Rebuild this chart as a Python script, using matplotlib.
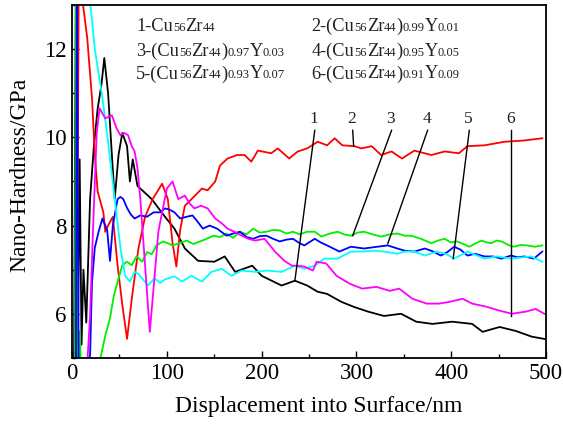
import numpy as np
import matplotlib
matplotlib.use("Agg")
from matplotlib import pyplot as plt
from matplotlib.offsetbox import TextArea, HPacker, AnnotationBbox

plt.rcParams['font.family'] = ['Liberation Serif', 'DejaVu Serif']

# Curve 1: Cu56Zr44 (black)
x1 = [2, 4, 6, 8, 10, 12, 15, 19, 23, 27, 31, 34, 38, 42, 45, 49, 53, 58, 61, 64, 69, 74, 84, 98, 108, 119,
      133, 150, 161, 172, 190, 200, 221, 235, 248, 259, 269, 284, 298, 312, 329, 347, 363, 380, 401, 422,
      433, 451, 468, 485, 498]
y1 = [4.5, 13.5, 5.0, 9.5, 5.3, 7.0, 5.8, 8.6, 9.8, 10.65, 11.2, 11.8, 11.0, 9.6, 8.6, 9.6, 10.1, 9.8, 9.0,
      9.5, 8.9, 8.8, 8.6, 8.2, 7.93, 7.48, 7.2, 7.18, 7.3, 6.95, 7.09, 6.86, 6.64, 6.75, 6.64, 6.5, 6.45,
      6.27, 6.15, 6.05, 5.95, 6.0, 5.82, 5.77, 5.82, 5.77, 5.59, 5.7, 5.61, 5.48, 5.43]

# Curve 2: (Cu56Zr44)0.99Y0.01 (red)
x2 = [5, 7, 11, 16, 21, 24, 27, 33, 35, 38, 43, 48, 53, 58, 63, 70, 77, 85, 95, 101, 106, 110, 114, 119,
      126, 137, 143, 151, 156, 164, 174, 182, 189, 196, 210, 217, 229, 238, 248, 259, 269, 277, 285, 298,
      305, 316, 326, 337, 348, 361, 379, 393, 408, 417, 435, 456, 477, 496]
y2 = [4.5, 13.5, 13.1, 12.25, 10.9, 9.6, 8.77, 8.3, 7.86, 8.0, 8.2, 7.1, 6.2, 5.43, 6.34, 7.48, 8.2, 8.6,
      8.95, 8.6, 7.6, 7.07, 7.9, 8.45, 8.6, 8.84, 8.8, 9.0, 9.36, 9.52, 9.6, 9.6, 9.45, 9.7, 9.64, 9.75,
      9.52, 9.68, 9.75, 9.9, 9.82, 9.98, 9.82, 9.8, 9.75, 9.8, 9.6, 9.68, 9.52, 9.7, 9.6, 9.68, 9.64,
      9.8, 9.82, 9.9, 9.93, 9.98]

# Curve 3: (Cu56Zr44)0.97Y0.03 (green)
x3 = [3, 4, 6, 8, 10, 29, 35, 40, 44, 49, 53, 58, 63, 68, 74, 79, 84, 89, 96, 101, 106, 113, 121, 128, 135,
      142, 149, 156, 163, 170, 177, 184, 191, 198, 205, 212, 219, 226, 233, 240, 248, 256, 263, 272, 280,
      287, 294, 301, 308, 317, 326, 335, 343, 351, 358, 368, 379, 386, 393, 399, 406, 413, 419, 426, 432,
      437, 442, 448, 453, 460, 466, 473, 480, 488, 496]
y3 = [4.5, 13.5, 4.5, 5.6, 4.5, 4.9, 5.5, 5.9, 6.4, 6.8, 7.1, 7.18, 7.1, 7.3, 7.18, 7.4, 7.35, 7.55, 7.64,
      7.6, 7.55, 7.6, 7.66, 7.58, 7.64, 7.7, 7.77, 7.74, 7.82, 7.72, 7.86, 7.8, 7.93, 7.84, 7.86, 7.9,
      7.89, 7.82, 7.86, 7.8, 7.86, 7.86, 7.75, 7.82, 7.86, 7.8, 7.77, 7.84, 7.86, 7.8, 7.75, 7.8, 7.82,
      7.77, 7.77, 7.7, 7.6, 7.66, 7.7, 7.62, 7.64, 7.58, 7.52, 7.6, 7.66, 7.62, 7.6, 7.66, 7.64, 7.56,
      7.52, 7.56, 7.55, 7.52, 7.55]

# Curve 4: (Cu56Zr44)0.95Y0.05 (blue)
x4 = [4, 5, 7, 19, 21, 24, 28, 32, 35, 37, 40, 43, 48, 51, 54, 58, 62, 66, 72, 79, 86, 93, 98, 103, 108,
      114, 121, 127, 132, 138, 145, 153, 158, 163, 170, 177, 184, 191, 198, 205, 212, 219, 226, 233, 240,
      245, 256, 262, 269, 282, 294, 308, 322, 333, 343, 351, 361, 372, 380, 389, 396, 403, 410, 417, 425,
      435, 444, 453, 463, 470, 477, 487, 496]
y4 = [4.5, 13.5, 4.5, 5.05, 6.7, 7.5, 7.86, 8.16, 8.0, 7.9, 7.2, 8.0, 8.6, 8.65, 8.6, 8.4, 8.25, 8.16, 8.23,
      8.2, 8.3, 8.3, 8.39, 8.36, 8.3, 8.16, 8.2, 8.23, 8.1, 7.93, 8.0, 7.93, 7.85, 7.77, 7.82, 7.86, 7.74,
      7.7, 7.76, 7.77, 7.7, 7.64, 7.68, 7.7, 7.6, 7.55, 7.7, 7.62, 7.55, 7.41, 7.52, 7.48, 7.52, 7.55,
      7.48, 7.43, 7.41, 7.48, 7.42, 7.32, 7.4, 7.52, 7.45, 7.32, 7.36, 7.3, 7.3, 7.25, 7.32, 7.28, 7.3,
      7.25, 7.41]

# Curve 5: (Cu56Zr44)0.93Y0.07 (cyan)
x5 = [19, 24, 32, 38, 45, 51, 56, 61, 66, 70, 74, 80, 87, 93, 98, 108, 116, 126, 137, 147, 158, 168, 179,
      193, 206, 221, 235, 245, 256, 266, 280, 294, 305, 319, 329, 343, 351, 361, 372, 385, 395, 403, 417,
      435, 448, 463, 484, 496]
y5 = [13.1, 12.0, 10.9, 9.9, 8.6, 7.5, 6.86, 6.73, 6.95, 6.9, 6.8, 6.64, 6.8, 6.7, 6.78, 6.85, 6.73, 6.86,
      6.73, 6.95, 7.02, 6.86, 6.98, 6.95, 6.98, 6.95, 7.09, 7.02, 7.09, 7.25, 7.25, 7.41, 7.41, 7.43,
      7.41, 7.36, 7.41, 7.41, 7.32, 7.41, 7.35, 7.25, 7.41, 7.25, 7.3, 7.25, 7.3, 7.18]

# Curve 6: (Cu56Zr44)0.91Y0.09 (magenta)
x6 = [15, 19, 22, 26, 29, 35, 42, 47, 51, 55, 59, 63, 66, 69, 72, 77, 82, 85, 91, 95, 100, 106, 112, 119,
      124, 129, 136, 143, 151, 158, 164, 172, 179, 186, 193, 203, 214, 224, 232, 238, 245, 254, 258, 268,
      279, 293, 306, 321, 335, 345, 359, 374, 387, 398, 412, 422, 437, 451, 464, 479, 489, 498]
y6 = [4.5, 5.95, 7.86, 10.1, 10.66, 10.43, 10.5, 10.2, 10.05, 10.1, 10.05, 9.8, 9.68, 9.3, 8.6, 7.1, 5.59,
      6.34, 7.86, 8.3, 8.84, 9.0, 8.6, 8.68, 8.5, 8.39, 8.45, 8.39, 8.16, 8.05, 7.93, 7.85, 7.77, 7.7,
      7.66, 7.7, 7.41, 7.2, 7.09, 7.09, 7.07, 6.98, 7.18, 7.14, 6.86, 6.68, 6.57, 6.61, 6.52, 6.57, 6.34,
      6.23, 6.23, 6.27, 6.34, 6.23, 6.16, 6.07, 6.0, 6.05, 6.11, 6.0]

curve_colors = ['black', '#ff0000', '#00ee00', '#0000ff', '#00ffff', '#ff00ff']

# Label lines: label position (top) and point on curve
label_nums = ['1', '2', '3', '4', '5', '6']
line_top_x = [256, 296, 337, 375, 419, 463]
line_end_x = [235, 297, 296, 333, 402, 463]
line_end_y = [6.75, 9.8, 7.77, 7.59, 7.25, 5.95]
line_top_y = 10.16

fig = plt.figure(figsize=(5.63, 4.24), dpi=100)
ax = fig.add_axes([0.128, 0.156, 0.842, 0.832])

for xs, ys, c in zip([x1, x2, x3, x4, x5, x6], [y1, y2, y3, y4, y5, y6], curve_colors):
    ax.plot(xs, ys, color=c, lw=1.3)

for n, tx, ex, ey in zip(label_nums, line_top_x, line_end_x, line_end_y):
    ax.plot([tx, ex], [line_top_y, ey], color='black', lw=1.0)
    ax.text(tx - 1, line_top_y + 0.08, n, ha='center', va='bottom', fontsize=12.5, color='#222222')

ax.set_xlim(0, 500)
ax.set_ylim(5, 13)
ax.set_xticks([0, 100, 200, 300, 400, 500])
ax.set_xticks(np.arange(50, 500, 100), minor=True)
ax.set_yticks([6, 8, 10, 12])
ax.set_yticks([5, 7, 9, 11, 13], minor=True)
ax.tick_params(which='both', direction='in', top=False, right=False, labelsize=16.5, width=1.0, pad=4)
ax.tick_params(which='major', length=5)
ax.tick_params(which='minor', length=3)
for s in ax.spines.values():
    s.set_linewidth(1.3)

ax.set_xlabel('Displacement into Surface/nm', fontsize=17)
ax.set_ylabel('Nano-Hardness/GPa', fontsize=17)
ax.xaxis.set_label_coords(0.52, -0.108)
ax.yaxis.set_label_coords(-0.088, 0.52)

# legend entries with small, baseline-aligned subscripts
big, small = 13.2, 9
legend_rows = [
    [('1-Cu', big), ('56', small), ('Zr', big), ('44', small)],
    [('2-(Cu', big), ('56', small), ('Zr', big), ('44', small), (')', big), ('0.99', small), ('Y', big), ('0.01', small)],
    [('3-(Cu', big), ('56', small), ('Zr', big), ('44', small), (')', big), ('0.97', small), ('Y', big), ('0.03', small)],
    [('4-(Cu', big), ('56', small), ('Zr', big), ('44', small), (')', big), ('0.95', small), ('Y', big), ('0.05', small)],
    [('5-(Cu', big), ('56', small), ('Zr', big), ('44', small), (')', big), ('0.93', small), ('Y', big), ('0.07', small)],
    [('6-(Cu', big), ('56', small), ('Zr', big), ('44', small), (')', big), ('0.91', small), ('Y', big), ('0.09', small)],
]
legend_x = [0.135, 0.505, 0.135, 0.505, 0.135, 0.505]
legend_y = [0.94, 0.94, 0.87, 0.87, 0.805, 0.805]

for parts, lx, ly in zip(legend_rows, legend_x, legend_y):
    areas = [TextArea(t, textprops=dict(fontsize=fs, color='#222222')) for t, fs in parts]
    box = HPacker(children=areas, align='baseline', pad=0, sep=0)
    ab = AnnotationBbox(box, (lx, ly), xycoords='axes fraction', box_alignment=(0, 0.5),
                        frameon=False, pad=0)
    ax.add_artist(ab)

fig.savefig('out.png', dpi=100)
